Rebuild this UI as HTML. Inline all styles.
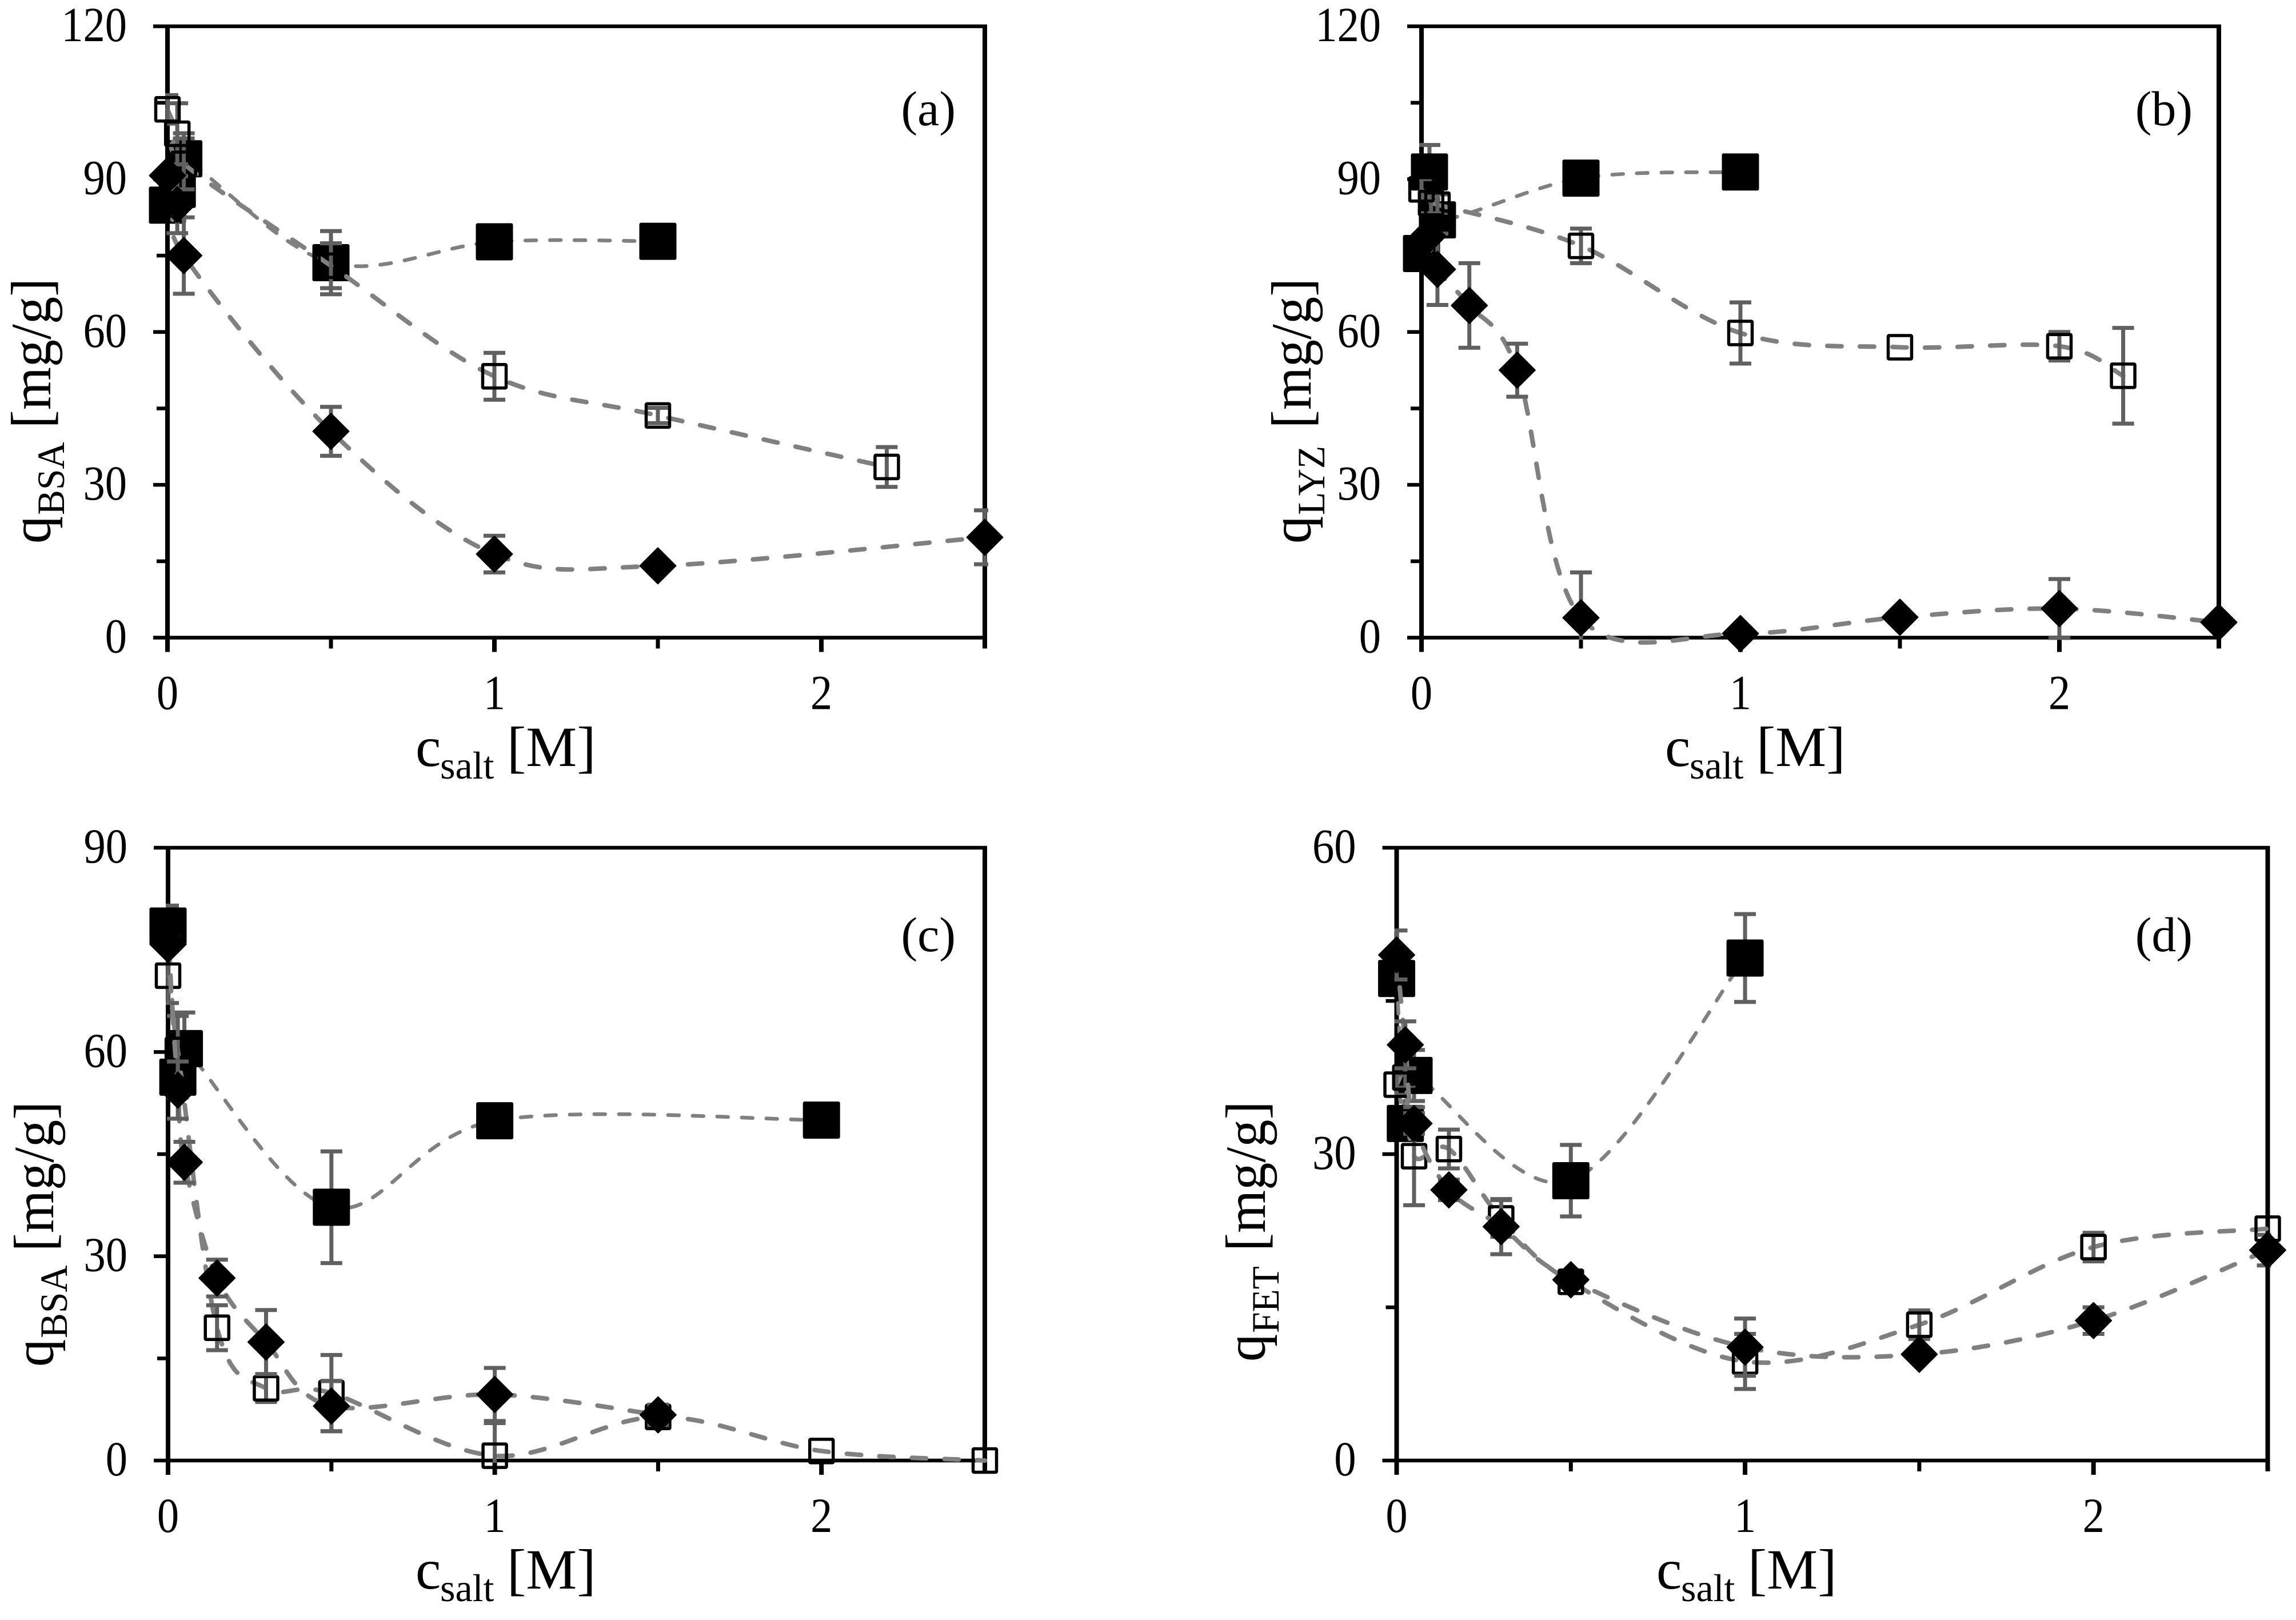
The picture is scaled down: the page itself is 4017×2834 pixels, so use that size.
<!DOCTYPE html>
<html lang="en">
<head>
<meta charset="utf-8">
<title>Protein adsorption versus salt concentration</title>
<style>
html,body{margin:0;padding:0;background:#fff;width:4017px;height:2834px;overflow:hidden}
svg{display:block}
text{font-family:"Liberation Serif",serif;fill:#000}
.tt{font-size:100px}
.sub{font-size:68px}
.tick{font-size:86px}
.panel{font-size:86px}
</style>
</head>
<body>
<svg id="figure" xmlns="http://www.w3.org/2000/svg" width="4017" height="2834" viewBox="0 0 4017 2834">
  <rect x="0" y="0" width="4017" height="2834" fill="#fff"/>
  <g id="plot-a"></g>
  <g id="plot-b"></g>
  <g id="plot-c"></g>
  <g id="plot-d"></g>

  <text class="tt" x="727" y="1340">c<tspan class="sub" x="770" y="1362">salt</tspan><tspan x="887" y="1340">[M]</tspan></text>
  <text class="tt" x="2913" y="1340">c<tspan class="sub" x="2956" y="1362">salt</tspan><tspan x="3073" y="1340">[M]</tspan></text>
  <text class="tt" x="727" y="2779">c<tspan class="sub" x="770" y="2801">salt</tspan><tspan x="887" y="2779">[M]</tspan></text>
  <text class="tt" x="2898" y="2779">c<tspan class="sub" x="2941" y="2801">salt</tspan><tspan x="3058" y="2779">[M]</tspan></text>

  <text class="tt" transform="translate(88 951) rotate(-90) scale(.965 1)" x="0" y="0">q<tspan class="sub" x="52" y="24">BSA</tspan><tspan x="209" y="0">[mg/g]</tspan></text>
  <text class="tt" transform="translate(2293 951) rotate(-90) scale(.965 1)" x="0" y="0">q<tspan class="sub" x="52" y="24">LYZ</tspan><tspan x="209" y="0">[mg/g]</tspan></text>
  <text class="tt" transform="translate(93 2391) rotate(-90) scale(.965 1)" x="0" y="0">q<tspan class="sub" x="52" y="24">BSA</tspan><tspan x="209" y="0">[mg/g]</tspan></text>
  <text class="tt" transform="translate(2213 2382) rotate(-90) scale(.965 1)" x="0" y="0">q<tspan class="sub" x="52" y="24">FET</tspan><tspan x="200" y="0">[mg/g]</tspan></text>

  <text class="panel" x="1672" y="219" text-anchor="end">(a)</text>
  <text class="panel" x="3836" y="219" text-anchor="end">(b)</text>
  <text class="panel" x="1672" y="1664" text-anchor="end">(c)</text>
  <text class="panel" x="3836" y="1664" text-anchor="end">(d)</text>
</svg>

<script>
// ---- axis tick labels ----
const xMajorTicks = [0, 1, 2];
const xMinorTicks = [0.5, 1.5, 2.5];
const xAxisMax = [2.5];
const yTicksA = [0, 30, 60, 90, 120];
const yTicksB = [0, 30, 60, 90, 120];
const yTicksC = [0, 30, 60, 90];
const yTicksD = [0, 30, 60];

// ---- panel (a) ----
const aFilledX = [0, 0.03, 0.05, 0.5, 1, 1.5];
const aFilledY = [84.9, 88, 94, 73.6, 77.7, 77.8];
const aFilledErr = [0, 0, 5, 6.2, 0, 0];
const aHollowX = [0, 0.03, 0.05, 0.5, 1, 1.5, 2.2];
const aHollowY = [103.7, 98.9, 93, 73, 51.3, 43.6, 33.5];
const aHollowErr = [2.8, 6, 5, 4.4, 4.6, 1.5, 3.9];
const aDiamondX = [0, 0.03, 0.05, 0.5, 1, 1.5, 2.5];
const aDiamondY = [90.7, 85, 75, 40.5, 16.4, 14.1, 19.7];
const aDiamondErr = [0, 5.6, 7.5, 4.8, 3.6, 0, 5.3];

// ---- panel (b) ----
const bFilledX = [0, 0.025, 0.05, 0.5, 1];
const bFilledY = [75.4, 91.4, 82, 90.2, 91.4];
const bFilledErr = [0, 5.3, 0, 0, 0];
const bHollowX = [0, 0.03, 0.05, 0.5, 1, 1.5, 2, 2.2];
const bHollowY = [88, 85.3, 85, 76.9, 59.8, 57, 57.2, 51.4];
const bHollowErr = [2, 2, 2, 3.4, 6, 0, 2.8, 9.4];
const bDiamondX = [0.02, 0.05, 0.15, 0.3, 0.5, 1, 1.5, 2, 2.5];
const bDiamondY = [78.8, 72.3, 65.2, 52.5, 3.9, 0.8, 4, 5.7, 3];
const bDiamondErr = [0, 7, 8.3, 5.2, 8.9, 0, 0, 5.8, 0];

// ---- panel (c) ----
const cFilledX = [0, 0.03, 0.05, 0.5, 1, 2];
const cFilledY = [78.5, 56.3, 60.5, 37.2, 49.9, 50];
const cFilledErr = [3, 3, 5.3, 8.2, 1.3, 0];
const cHollowX = [0, 0.03, 0.15, 0.3, 0.5, 1, 1.5, 2, 2.5];
const cHollowY = [71.2, 60.3, 19.5, 10.6, 9.9, 0.7, 6.4, 1.4, 0];
const cHollowErr = [4, 5, 3.3, 2, 5.6, 4.8, 0.5, 0, 0];
const cDiamondX = [0, 0.03, 0.05, 0.15, 0.3, 0.5, 1, 1.5];
const cDiamondY = [75.8, 54.4, 43.8, 26.8, 17.4, 8, 9.7, 6.7];
const cDiamondErr = [1, 4.2, 3, 2.7, 4.7, 3.7, 3.9, 1.5];

// ---- panel (d) ----
const dFilledX = [0, 0.025, 0.05, 0.5, 1];
const dFilledY = [47.2, 33, 37.7, 27.4, 49.2];
const dFilledErr = [0, 0, 2.5, 3.5, 4.3];
const dHollowX = [0, 0.025, 0.05, 0.15, 0.3, 0.5, 1, 1.5, 2, 2.5];
const dHollowY = [36.8, 37.5, 29.8, 30.5, 23.7, 17.5, 9.7, 13.3, 20.9, 22.7];
const dHollowErr = [1, 1, 4.8, 1.9, 1.8, 0.5, 2.7, 1.4, 1.4, 0];
const dDiamondX = [0, 0.025, 0.05, 0.15, 0.3, 0.5, 1, 1.5, 2, 2.5];
const dDiamondY = [49.5, 40.7, 33, 26.5, 22.9, 17.7, 11.1, 10.4, 13.7, 20.6];
const dDiamondErr = [2.4, 2.3, 1, 1, 2.7, 0.5, 2.8, 0.3, 1.3, 1.5];

const NS = 'http://www.w3.org/2000/svg';
const LINE_GRAY = '#808080';
const ERR_GRAY = '#606060';
const TICK_TEXT_SQUEEZE = 0.89;

function make(tag, attrs) {
  const el = document.createElementNS(NS, tag);
  for (const k in attrs) el.setAttribute(k, attrs[k]);
  return el;
}

function smoothPath(pts) {
  let d = 'M' + pts[0][0] + ' ' + pts[0][1];
  for (let i = 0; i < pts.length - 1; i++) {
    const p0 = pts[Math.max(i - 1, 0)];
    const p1 = pts[i];
    const p2 = pts[i + 1];
    const p3 = pts[Math.min(i + 2, pts.length - 1)];
    const c1x = p1[0] + (p2[0] - p0[0]) / 6;
    const c1y = p1[1] + (p2[1] - p0[1]) / 6;
    const c2x = p2[0] - (p3[0] - p1[0]) / 6;
    const c2y = p2[1] - (p3[1] - p1[1]) / 6;
    d += ' C' + c1x + ' ' + c1y + ' ' + c2x + ' ' + c2y + ' ' + p2[0] + ' ' + p2[1];
  }
  return d;
}

function drawAxes(root, id, box, yTicks, sx, sy) {
  const x1 = sx(xAxisMax[0]);
  const frame = [
    ['axis-left', box.x0, box.top - 3, box.x0, box.bottom + 25, 8],
    ['axis-right', x1, box.top - 3, x1, box.bottom + 19, 8],
    ['axis-top', box.x0 - 25, box.top, x1 + 4, box.top, 6.5],
    ['axis-bottom', box.x0 - 25, box.bottom, x1 + 4, box.bottom, 6.5]
  ];
  frame.forEach(function (f) {
    const line = make('line', {x1: f[1], y1: f[2], x2: f[3], y2: f[4], stroke: '#000', 'stroke-width': f[5]});
    
    
    root.appendChild(line);
  });
  yTicks.forEach(function (v, i) {
    const y = sy(v);
    if (v > 0 && v < yTicks[yTicks.length - 1]) {
      const tick = make('line', {x1: box.x0 - 25, y1: y, x2: box.x0, y2: y, stroke: '#000', 'stroke-width': 6.5});
      
      
      root.appendChild(tick);
    }
    if (i > 0) {
      const ym = sy((v + yTicks[i - 1]) / 2);
      const minor = make('line', {x1: box.x0 - 19, y1: ym, x2: box.x0, y2: ym, stroke: '#000', 'stroke-width': 6.5});
      
      
      root.appendChild(minor);
    }
    const label = make('text', {
      transform: 'translate(' + (box.x0 - 71) + ' ' + (y + 26) + ') scale(' + TICK_TEXT_SQUEEZE + ' 1)',
      'text-anchor': 'end', class: 'tick'
    });
    label.textContent = String(v);
    
    
    root.appendChild(label);
  });
  xMajorTicks.forEach(function (v) {
    const x = sx(v);
    if (v > 0) {
      const tick = make('line', {x1: x, y1: box.bottom, x2: x, y2: box.bottom + 25, stroke: '#000', 'stroke-width': 8});
      
      
      root.appendChild(tick);
    }
    const label = make('text', {
      transform: 'translate(' + x + ' ' + (box.bottom + 125) + ') scale(' + TICK_TEXT_SQUEEZE + ' 1)',
      'text-anchor': 'middle', class: 'tick'
    });
    label.textContent = String(v);
    
    
    root.appendChild(label);
  });
  xMinorTicks.forEach(function (v) {
    if (v >= xAxisMax[0]) return;
    const x = sx(v);
    const minor = make('line', {x1: x, y1: box.bottom, x2: x, y2: box.bottom + 19, stroke: '#000', 'stroke-width': 7});
    
    
    root.appendChild(minor);
  });
}

function drawSeries(root, clipId, kind, xs, ys, errs, sx, sy) {
  const pts = xs.map(function (x, i) { return [sx(x), sy(ys[i])]; });
  const line = make('path', {
    d: smoothPath(pts), fill: 'none', stroke: LINE_GRAY,
    'stroke-width': kind === 'filled' ? 6.5 : 8,
    'stroke-linecap': 'round',
    'stroke-dasharray': kind === 'filled' ? '19 24' : '25 32'
  });
  
  
  root.appendChild(line);

  const errGroup = make('g', {'clip-path': 'url(#' + clipId + ')', stroke: ERR_GRAY, 'stroke-width': 7});
  
  
  xs.forEach(function (x, i) {
    if (!errs[i]) return;
    const cx = sx(x);
    const hi = sy(ys[i] + errs[i]);
    const lo = sy(ys[i] - errs[i]);
    const bar = make('path', {
      d: 'M' + cx + ' ' + hi + 'V' + lo + 'M' + (cx - 19) + ' ' + hi + 'H' + (cx + 19) + 'M' + (cx - 19) + ' ' + lo + 'H' + (cx + 19),
      fill: 'none'
    });
    
    
    errGroup.appendChild(bar);
  });
  root.appendChild(errGroup);

  pts.forEach(function (p) {
    let m;
    if (kind === 'filled') {
      m = make('rect', {x: p[0] - 32.5, y: p[1] - 32.5, width: 65, height: 65, rx: 3, fill: '#000'});
    } else if (kind === 'hollow') {
      m = make('rect', {x: p[0] - 20.5, y: p[1] - 20.5, width: 41, height: 41, rx: 1.5, fill: 'none', stroke: '#000', 'stroke-width': 5.5});
    } else {
      const r = 31.5;
      m = make('polygon', {
        points: (p[0] - r) + ',' + p[1] + ' ' + p[0] + ',' + (p[1] - r) + ' ' + (p[0] + r) + ',' + p[1] + ' ' + p[0] + ',' + (p[1] + r),
        fill: '#000', stroke: '#000', 'stroke-width': 2, 'stroke-linejoin': 'round'
      });
    }
    
    
    root.appendChild(m);
  });
}

function drawPanel(id, box, yTicks, series) {
  const root = document.getElementById(id);
  const yMax = yTicks[yTicks.length - 1];
  const sx = function (v) { return box.x0 + v * box.ppx; };
  const sy = function (v) { return box.bottom - v * (box.bottom - box.top) / yMax; };
  drawAxes(root, id, box, yTicks, sx, sy);
  const clipId = id + '-clip';
  const clip = make('clipPath', {id: clipId});
  clip.appendChild(make('rect', {
    x: box.x0 - 4, y: box.top - 4,
    width: sx(xAxisMax[0]) - box.x0 + 10,
    height: box.bottom - box.top + 8
  }));
  root.appendChild(clip);
  series.forEach(function (s) {
    drawSeries(root, clipId, s[0], s[1], s[2], s[3], sx, sy);
  });
}

drawPanel('plot-a', {x0: 293, ppx: 572, top: 46, bottom: 1115.5}, yTicksA, [
  ['filled', aFilledX, aFilledY, aFilledErr],
  ['hollow', aHollowX, aHollowY, aHollowErr],
  ['diamond', aDiamondX, aDiamondY, aDiamondErr]
]);
drawPanel('plot-b', {x0: 2487, ppx: 558, top: 46, bottom: 1115.5}, yTicksB, [
  ['filled', bFilledX, bFilledY, bFilledErr],
  ['hollow', bHollowX, bHollowY, bHollowErr],
  ['diamond', bDiamondX, bDiamondY, bDiamondErr]
]);
drawPanel('plot-c', {x0: 294, ppx: 571.6, top: 1483, bottom: 2555}, yTicksC, [
  ['filled', cFilledX, cFilledY, cFilledErr],
  ['hollow', cHollowX, cHollowY, cHollowErr],
  ['diamond', cDiamondX, cDiamondY, cDiamondErr]
]);
drawPanel('plot-d', {x0: 2443.5, ppx: 609.6, top: 1483, bottom: 2555}, yTicksD, [
  ['filled', dFilledX, dFilledY, dFilledErr],
  ['hollow', dHollowX, dHollowY, dHollowErr],
  ['diamond', dDiamondX, dDiamondY, dDiamondErr]
]);
</script>
</body>
</html>
